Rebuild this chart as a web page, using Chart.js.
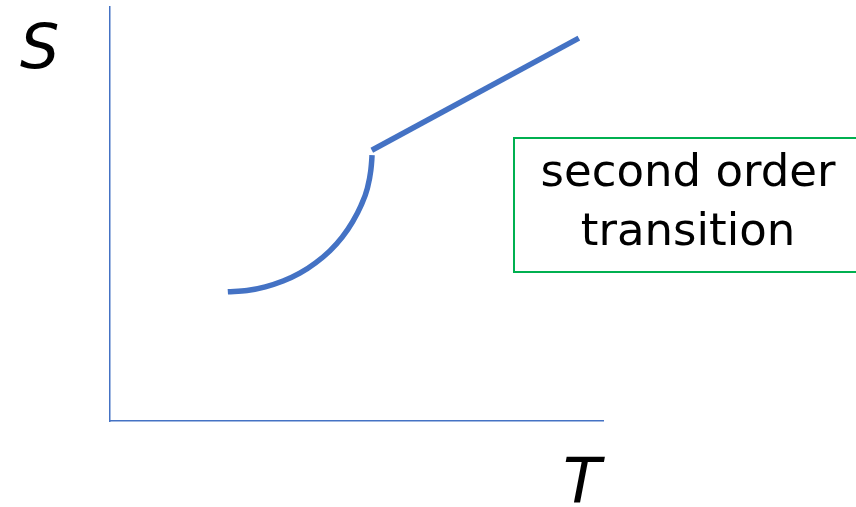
<!DOCTYPE html>
<html>
<head>
<meta charset="utf-8">
<title>S vs T</title>
<script src="https://cdn.jsdelivr.net/npm/chart.js@4.4.1/dist/chart.umd.min.js"></script>
<style>
    html, body { margin: 0; padding: 0; background: #ffffff; }
    #wrap { width: 856px; height: 507px; position: relative; }
</style>
</head>
<body>
<div id="wrap"><canvas id="chart"></canvas></div>
<script>
// Entropy below the transition (curved branch)
const lowT = [23.9, 27.8, 31.5, 35.1, 38.5, 41.7, 44.6, 47.1, 49.2, 50.9, 52.2, 52.9, 53.1, 53.15];
const lowS = [31.2, 31.5, 32.4, 33.8, 35.7, 38.2, 41.1, 44.4, 48.1, 52.0, 56.2, 60.5, 63.1, 64.2];

// Entropy above the transition (straight branch)
const highT = [53.1, 95.1];
const highS = [65.4, 92.5];

const axisLabels = { x: 'T', y: 'S' };
const boxLines = ['second order', 'transition'];

const BLUE = '#4472C4';
const GREEN = '#00B050';

const toPoints = (xs, ys) => xs.map((x, i) => ({ x: x, y: ys[i] }));

// Axis letters and the annotation box
const decorations = {
    id: 'decorations',
    afterDraw(chart) {
        const { ctx, chartArea } = chart;
        ctx.save();
        ctx.fillStyle = '#000000';
        ctx.textBaseline = 'alphabetic';
        ctx.textAlign = 'left';
        ctx.font = 'italic 62px "DejaVu Sans"';
        ctx.fillText(axisLabels.y, 20, 68);
        ctx.fillText(axisLabels.x, chartArea.right - 40, 502);

        // box
        ctx.strokeStyle = GREEN;
        ctx.lineWidth = 2;
        ctx.strokeRect(514, 138, 360, 134);

        ctx.font = '45px "DejaVu Sans"';
        ctx.textAlign = 'center';
        ctx.fillText(boxLines[0], 688, 186);
        ctx.fillText(boxLines[1], 688, 245);
        ctx.restore();
    }
};

new Chart(document.getElementById('chart'), {
    type: 'scatter',
    data: {
        datasets: [
            {
                data: toPoints(lowT, lowS),
                showLine: true,
                borderColor: BLUE,
                borderWidth: 5.5,
                pointRadius: 0,
                cubicInterpolationMode: 'monotone',
                borderCapStyle: 'butt'
            },
            {
                data: toPoints(highT, highS),
                showLine: true,
                borderColor: BLUE,
                borderWidth: 5.5,
                pointRadius: 0,
                borderCapStyle: 'butt'
            }
        ]
    },
    options: {
        responsive: true,
        maintainAspectRatio: false,
        animation: false,
        layout: { padding: { left: 102, top: 7, right: 253, bottom: 78 } },
        plugins: {
            legend: { display: false },
            tooltip: { enabled: false }
        },
        scales: {
            x: {
                type: 'linear',
                min: 0,
                max: 100,
                grid: { display: false },
                ticks: { display: false },
                border: { display: true, color: BLUE, width: 1.5 }
            },
            y: {
                type: 'linear',
                min: 0,
                max: 100,
                grid: { display: false },
                ticks: { display: false },
                border: { display: true, color: BLUE, width: 1.5 }
            }
        }
    },
    plugins: [decorations]
});
</script>
</body>
</html>
